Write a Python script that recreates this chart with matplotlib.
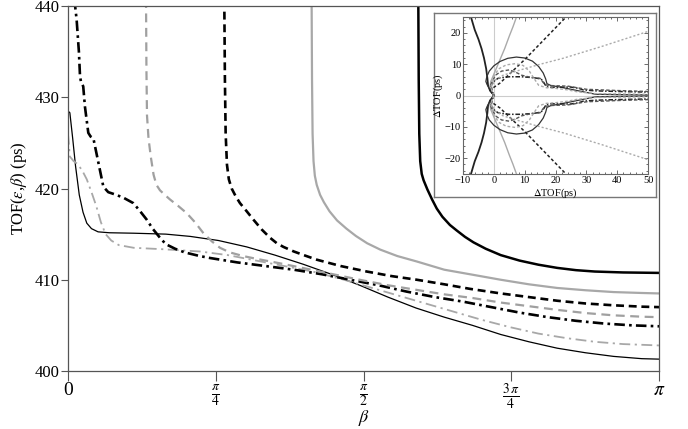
import numpy as np
import matplotlib
matplotlib.use("Agg")
from matplotlib import pyplot as plt

plt.rcParams['font.family'] = ['Liberation Serif', 'DejaVu Serif']
plt.rcParams['mathtext.fontset'] = 'stix'

# main curves: beta (rad) vs TOF (ps)
b_thin = [0.0, 0.01, 0.025, 0.04, 0.06, 0.08, 0.10, 0.125, 0.16, 0.22, 0.35, 0.52, 0.65,
          0.8, 0.95, 1.1, 1.25, 1.4, 1.55, 1.7, 1.85, 2.0, 2.15, 2.3, 2.45, 2.6, 2.75,
          2.9, 3.05, 3.1416]
t_thin = [428.5, 428.3, 425.5, 422.5, 419.3, 417.4, 416.2, 415.6, 415.25, 415.15, 415.1,
          415.0, 414.75, 414.3, 413.6, 412.7, 411.7, 410.6, 409.4, 408.1, 406.9, 405.9,
          405.0, 404.0, 403.2, 402.5, 402.0, 401.6, 401.35, 401.3]

b_gdd = [0.0, 0.01, 0.03, 0.05, 0.075, 0.1, 0.125, 0.15, 0.175, 0.2, 0.23, 0.27, 0.35,
         0.5, 0.7, 0.85, 1.0, 1.15, 1.3, 1.45, 1.6, 1.75, 1.9, 2.05, 2.2, 2.35, 2.5, 2.65,
         2.8, 2.95, 3.1416]
t_gdd = [426.0, 423.5, 423.0, 422.7, 422.0, 421.0, 419.6, 418.1, 416.3, 415.0, 414.3,
         413.8, 413.5, 413.35, 413.1, 412.7, 412.1, 411.5, 410.9, 410.1, 409.2, 408.3,
         407.4, 406.5, 405.6, 404.8, 404.1, 403.6, 403.2, 402.95, 402.8]

b_bdd = [0.036, 0.038, 0.046, 0.058, 0.064, 0.07, 0.081, 0.09, 0.108, 0.12, 0.135, 0.16,
         0.188, 0.214, 0.25, 0.294, 0.347, 0.38, 0.418, 0.45, 0.489, 0.52, 0.569, 0.62,
         0.7, 0.75, 0.9, 1.05, 1.2, 1.35, 1.5, 1.65, 1.8, 1.95, 2.1, 2.25, 2.4, 2.55,
         2.7, 2.85, 3.0, 3.1416]
t_bdd = [445.0, 440.0, 438.5, 435.0, 432.3, 431.6, 431.2, 429.0, 426.1, 425.7, 425.5,
         423.0, 420.2, 419.6, 419.35, 419.0, 418.4, 417.6, 416.6, 415.6, 414.6, 413.9,
         413.4, 413.0, 412.6, 412.4, 411.9, 411.5, 411.1, 410.6, 410.0, 409.4, 408.7,
         408.1, 407.6, 407.0, 406.4, 405.9, 405.5, 405.2, 405.0, 404.9]

b_gd = [0.413, 0.415, 0.417, 0.42, 0.428, 0.44, 0.455, 0.47, 0.489, 0.515, 0.542, 0.585,
        0.631, 0.675, 0.72, 0.765, 0.808, 0.86, 0.93, 1.0, 1.127, 1.27, 1.41, 1.55, 1.7,
        1.85, 2.0, 2.15, 2.3, 2.45, 2.6, 2.75, 2.9, 3.05, 3.1416]
t_gd = [445.0, 440.0, 433.0, 428.0, 425.5, 423.5, 421.5, 420.4, 419.8, 419.3, 418.8,
        418.1, 417.3, 416.3, 415.1, 414.2, 413.5, 413.0, 412.6, 412.3, 411.8, 411.2,
        410.6, 410.0, 409.4, 408.9, 408.4, 408.0, 407.5, 407.1, 406.7, 406.35, 406.1,
        405.95, 405.9]

b_bd = [0.829, 0.831, 0.834, 0.838, 0.845, 0.855, 0.87, 0.89, 0.914, 0.95, 0.985, 1.03,
        1.074, 1.11, 1.145, 1.2, 1.26, 1.322, 1.45, 1.588, 1.72, 1.854, 2.0, 2.137, 2.3,
        2.45, 2.6, 2.75, 2.9, 3.05, 3.1416]
t_bd = [445.0, 440.0, 432.0, 426.0, 422.6, 421.0, 420.0, 419.2, 418.4, 417.5, 416.6,
        415.5, 414.6, 414.0, 413.6, 413.1, 412.65, 412.2, 411.5, 410.9, 410.4, 410.0,
        409.5, 409.0, 408.5, 408.1, 407.7, 407.4, 407.2, 407.05, 407.0]

b_gs = [1.294, 1.295, 1.297, 1.30, 1.305, 1.312, 1.322, 1.34, 1.36, 1.39, 1.43, 1.48,
        1.53, 1.59, 1.66, 1.75, 1.854, 2.0, 2.137, 2.3, 2.45, 2.6, 2.75, 2.9, 3.05, 3.1416]
t_gs = [445.0, 440.0, 432.0, 426.0, 423.0, 421.4, 420.4, 419.3, 418.5, 417.5, 416.5,
        415.6, 414.8, 414.0, 413.3, 412.6, 412.0, 411.1, 410.6, 410.0, 409.5, 409.1,
        408.85, 408.65, 408.55, 408.5]

b_bs = [1.861, 1.862, 1.864, 1.867, 1.872, 1.88, 1.89, 1.91, 1.935, 1.96, 1.99, 2.03,
        2.066, 2.11, 2.155, 2.22, 2.3, 2.4, 2.5, 2.6, 2.7, 2.8, 2.95, 3.1416]
t_bs = [445.0, 440.0, 432.0, 426.0, 423.0, 421.6, 420.9, 419.9, 418.8, 417.8, 416.9,
        416.0, 415.4, 414.7, 414.1, 413.4, 412.7, 412.1, 411.65, 411.3, 411.05, 410.9,
        410.8, 410.75]

xtick_vals = [0, np.pi / 4, np.pi / 2, 3 * np.pi / 4, np.pi]
xtick_labels = ['0', r'$\frac{\pi}{4}$', r'$\frac{\pi}{2}$', r'$\frac{3\,\pi}{4}$', r'$\pi$']
ytick_vals = [400, 410, 420, 430, 440]

# inset: upper halves of the symmetric curves (dTOF x, dTOF y)
i_blk_x = [0, -0.3, -1.2, -1.9, -2.1, -2.5, -3.2, -4.0, -5.0, -6.2, -7.4]
i_blk_y = [0, 0.5, 1.5, 3.3, 5.5, 8.6, 12.0, 15.0, 18.0, 21.0, 25.0]

i_gry_x = [0, -1.3, -1.0, 0.5, 2.0, 3.5, 5.0, 6.2, 7.3]
i_gry_y = [0, 2.5, 4.5, 8.0, 11.5, 15.0, 19.0, 22.0, 25.0]

i_circ_x = [0, -1.0, -2.2, -2.6, -2.3, -1.5, 0.0, 2.0, 4.5, 7.3, 10.0, 12.5, 14.5, 16.0,
            16.8, 17.2, 18.5, 21.0, 25.0, 30.0, 33.0, 40.0, 50.0]
i_circ_y = [0, 1.5, 3.5, 4.5, 6.0, 7.8, 9.5, 10.9, 11.9, 12.3, 12.0, 11.0, 9.3, 7.2,
            5.3, 3.8, 3.2, 2.8, 2.0, 1.0, 0.4, 0.3, 0.2]

i_line_x = [0, -1.2, 2.0, 10.0, 23.3]
i_line_y = [0, 1.8, 4.0, 11.5, 25.0]

i_wav_x = [0, -1.2, -0.5, 1.5, 5.0, 9.0, 13.0, 15.3, 16.3, 17.0, 19.0, 22.0, 25.0, 27.5,
           29.0, 33.0, 40.0, 50.0]
i_wav_y = [0, 1.8, 4.2, 5.6, 6.0, 6.0, 5.7, 5.3, 4.0, 2.8, 2.6, 2.7, 2.7, 2.3,
           1.8, 1.5, 1.3, 1.1]

i_wav2_x = [0, -1.0, 0.5, 2.5, 5.0, 7.0, 9.0, 12.0, 15.0, 16.5, 18.0, 24.0, 30.0, 40.0, 50.0]
i_wav2_y = [0, 3.5, 6.5, 7.8, 8.2, 7.5, 6.5, 5.8, 5.5, 3.5, 3.2, 3.0, 2.0, 1.6, 1.3]

i_dot1_x = [0, -1.0, 0.0, 1.5, 4.0, 7.0, 9.5, 11.5, 13.0, 14.5, 17.0, 20.0, 24.0, 27.0, 33.0, 50.0]
i_dot1_y = [0, 2.5, 6.0, 8.5, 9.8, 10.2, 9.6, 7.8, 5.5, 3.3, 2.5, 2.3, 1.8, 1.2, 0.6, 0.4]

i_dot2_x = [0, -1.0, 0.5, 3.0, 8.3, 15.0, 22.4, 35.0, 50.0]
i_dot2_y = [0, 2.5, 5.0, 6.5, 8.1, 10.0, 11.9, 15.7, 20.5]

fig = plt.figure(figsize=(6.88, 4.29), dpi=100)
ax = fig.add_axes([0.0988, 0.1352, 0.8592, 0.8508])

ax.plot(b_thin, t_thin, color='black', lw=0.9)
ax.plot(b_gdd, t_gdd, color='#a8a8a8', lw=1.3, dashes=(6, 2.5, 1.2, 2.5))
ax.plot(b_bdd, t_bdd, color='black', lw=1.9, dashes=(4, 1.6, 1, 1.6))
ax.plot(b_gd, t_gd, color='#a0a0a0', lw=1.6, dashes=(4, 2.5))
ax.plot(b_bd, t_bd, color='black', lw=1.9, dashes=(3, 1.8))
ax.plot(b_gs, t_gs, color='#a8a8a8', lw=1.6)
ax.plot(b_bs, t_bs, color='black', lw=1.8)

ax.set_xlim(0, np.pi)
ax.set_ylim(400, 440)
ax.set_xticks(xtick_vals)
ax.set_xticklabels(xtick_labels, fontsize=14)
ax.set_yticks(ytick_vals)
ax.set_yticklabels([str(v) for v in ytick_vals], fontsize=12)
ax.tick_params(axis='x', direction='out', length=7, width=0.8, color='#555555', pad=1)
ax.tick_params(axis='y', direction='out', length=5, width=0.8, color='#555555', pad=1)
for s in ax.spines.values():
    s.set_color('#555555')
    s.set_linewidth(0.9)
ax.set_xlabel(r'$\beta$', fontsize=13, va='center')
ax.xaxis.set_label_coords(0.5, -0.128)
ax.set_ylabel(r'TOF($\epsilon$,$\beta$) (ps)', fontsize=12, labelpad=4)

# inset frame
box = fig.add_axes([0.631, 0.541, 0.322, 0.428])
box.set_xticks([])
box.set_yticks([])
for s in box.spines.values():
    s.set_color('#777777')
    s.set_linewidth(1.0)

ins = fig.add_axes([0.673, 0.595, 0.269, 0.3646])
ins.axhline(0, color='#cccccc', lw=0.8)
ins.axvline(0, color='#cccccc', lw=0.8)
for sgn in (1, -1):
    ins.plot(i_blk_x, [sgn * v for v in i_blk_y], color='#222222', lw=1.3)
    ins.plot(i_gry_x, [sgn * v for v in i_gry_y], color='#aaaaaa', lw=1.0)
    ins.plot(i_circ_x, [sgn * v for v in i_circ_y], color='#333333', lw=0.9)
    ins.plot(i_line_x, [sgn * v for v in i_line_y], color='#222222', lw=1.1, dashes=(2, 1.5))
    ins.plot(i_wav_x, [sgn * v for v in i_wav_y], color='#222222', lw=1.1, dashes=(3, 1.2, 1, 1.2))
    ins.plot(i_wav2_x, [sgn * v for v in i_wav2_y], color='#555555', lw=1.0, dashes=(2.5, 1.5))
    ins.plot(i_dot1_x, [sgn * v for v in i_dot1_y], color='#aaaaaa', lw=1.0, dashes=(2, 1.5))
    ins.plot(i_dot2_x, [sgn * v for v in i_dot2_y], color='#aaaaaa', lw=1.0, dashes=(1.5, 1.5))
ins.set_xlim(-10, 50)
ins.set_ylim(-25, 25)
ins.set_xticks([-10, 0, 10, 20, 30, 40, 50])
ins.set_yticks([-20, -10, 0, 10, 20])
ins.set_xticks(np.arange(-10, 51, 2), minor=True)
ins.set_yticks(np.arange(-24, 25, 2), minor=True)
ins.tick_params(which='both', direction='in', top=True, right=True, labelsize=7.5,
                color='#555555', width=0.6, pad=1.5)
ins.tick_params(which='major', length=3)
ins.tick_params(which='minor', length=1.5)
for s in ins.spines.values():
    s.set_color('#666666')
    s.set_linewidth(0.8)
ins.set_xlabel(r'$\Delta$TOF(ps)', fontsize=7.5, labelpad=1)
ins.set_ylabel(r'$\Delta$TOF(ps)', fontsize=7.5, labelpad=0)

fig.savefig('out.png', dpi=100)
